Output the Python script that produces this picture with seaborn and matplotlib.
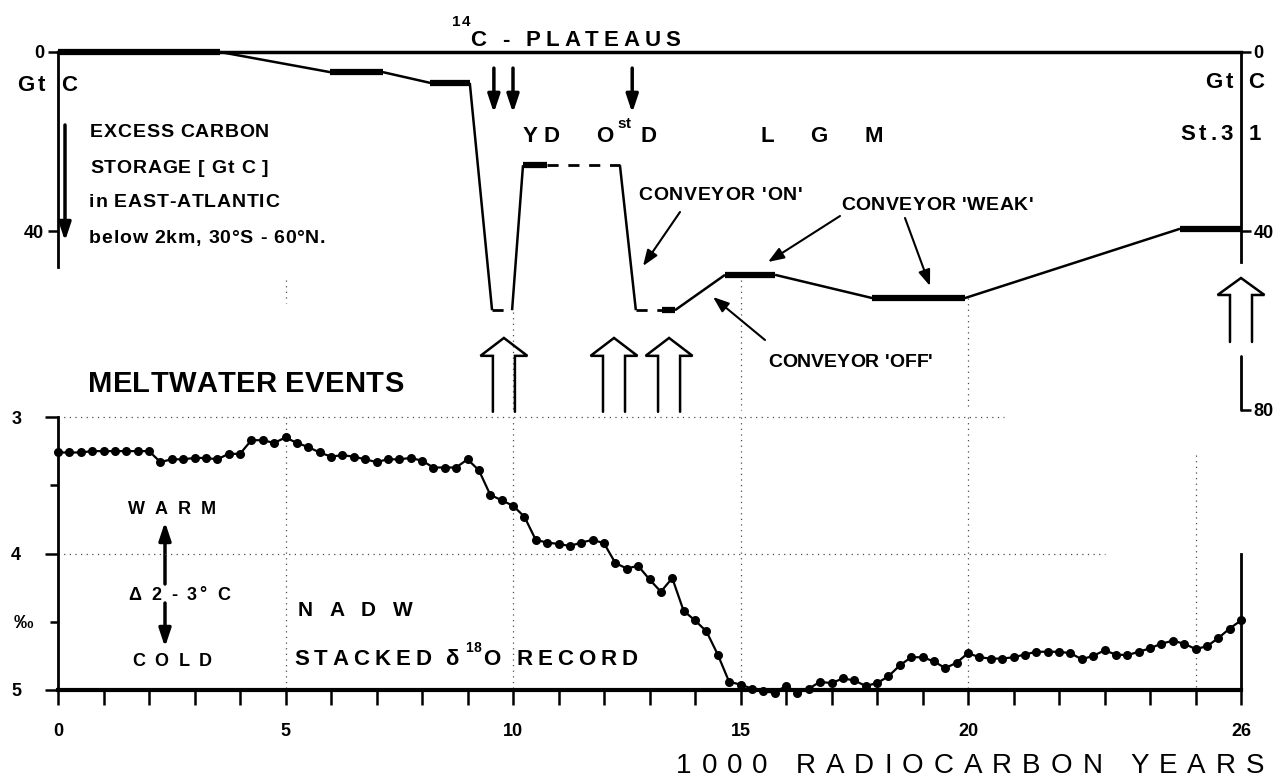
import numpy as np
import pandas as pd
import matplotlib
matplotlib.use("Agg")
import matplotlib.pyplot as plt
import seaborn as sns
from matplotlib.font_manager import FontProperties, findfont, get_font

# ----------------------------------
# Data
# ----------------------------------

# stacked d18O record of NADW, one sample every 250 radiocarbon years
age_kyr = np.arange(0, 26.001, 0.25)
d18o_permil = [
    3.26, 3.26, 3.26, 3.25, 3.25, 3.25, 3.25, 3.25, 3.25,
    3.33, 3.31, 3.31, 3.30, 3.30, 3.31, 3.27, 3.27,
    3.17, 3.17, 3.19, 3.15,
    3.19, 3.22, 3.26, 3.29, 3.28, 3.29, 3.31, 3.33, 3.31, 3.31, 3.30,
    3.32, 3.37, 3.37, 3.37, 3.31, 3.39, 3.57, 3.61, 3.65, 3.73,
    3.90, 3.92, 3.93, 3.945, 3.92, 3.90, 3.925, 4.07, 4.11, 4.09, 4.19,
    4.28, 4.18, 4.42, 4.49, 4.57, 4.74, 4.94, 4.96, 4.99, 5.01,
    5.02, 4.97, 5.02, 4.99, 4.94, 4.95, 4.915, 4.93, 4.97, 4.95, 4.90,
    4.82, 4.76, 4.76, 4.79, 4.84, 4.80, 4.73, 4.76, 4.77, 4.77,
    4.76, 4.74, 4.72, 4.72, 4.72, 4.73, 4.775, 4.75, 4.71, 4.74, 4.745,
    4.72, 4.695, 4.66, 4.64, 4.66, 4.70, 4.68, 4.62, 4.55, 4.49,
]

# excess carbon storage scheme (break points)
carbon_age = [0, 3.56, 5.98, 7.14, 8.18, 9.05, 9.54, 9.98, 10.22, 10.75,
              12.35, 12.70, 13.27, 13.56, 14.66, 15.76, 17.90, 19.93,
              24.66, 26.0]
carbon_gtc = [0, 0, 4.5, 4.5, 6.9, 6.9, 57.7, 57.7, 25.3, 25.3,
              25.3, 57.7, 57.7, 57.7, 49.8, 49.8, 55.0, 55.0,
              39.5, 39.5]

# 14C plateaus and meltwater events (kyr)
plateau_ages = [9.58, 10.0, 12.62]
meltwater_ages = [9.8, 12.22, 13.43, 26.0]

xtick_labels = {0: "0", 5: "5", 10: "10", 15: "15", 20: "20", 26: "26"}

# ----------------------------------
# Style
# ----------------------------------

W, H, DPI = 1283, 781, 100
FONT = "Liberation Sans"

sns.set_theme(style="white")
plt.rcParams["font.family"] = [FONT, "DejaVu Sans"]
plt.rcParams["font.weight"] = "bold"
plt.rcParams["axes.edgecolor"] = "black"
plt.rcParams["xtick.color"] = "black"
plt.rcParams["ytick.color"] = "black"
plt.rcParams["text.color"] = "black"

fig = plt.figure(figsize=(W / DPI, H / DPI), dpi=DPI)


def fx(px):
    return px / W


def fy(py):
    return 1 - py / H


def pt2px(v):
    return v * DPI / 72


def tracked(px, cy, s, size, track=0.0, weight="bold"):
    # letter-spaced text, px = left edge, cy = middle of capitals (pixels)
    prop = FontProperties(family=FONT, weight=weight, size=size)
    font = get_font(findfont(prop))
    base = cy + 0.36 * pt2px(size)
    x = px
    for ch in s:
        fig.text(fx(x), fy(base), ch, fontproperties=prop,
                 ha="left", va="baseline")
        font.set_size(size, 72)
        adv = font.load_char(ord(ch)).linearHoriAdvance / 65536
        x += pt2px(adv) + track


LEFT, RIGHT = 58, 1241
ax_top = fig.add_axes([fx(LEFT), fy(410), fx(RIGHT) - fx(LEFT), fy(52) - fy(410)])
ax_bot = fig.add_axes([fx(LEFT), fy(690), fx(RIGHT) - fx(LEFT), fy(417) - fy(690)])

for ax in (ax_top, ax_bot):
    ax.set_facecolor("none")

# ----------------------------------
# Lower panel: d18O record
# ----------------------------------

df = pd.DataFrame({"age": age_kyr, "d18o": d18o_permil})

sns.lineplot(
    data=df,
    x="age",
    y="d18o",
    ax=ax_bot,
    color="black",
    linewidth=1.6,
    marker="o",
    markersize=6.5,
    markeredgewidth=0,
    estimator=None,
    sort=False,
    clip_on=False,
    zorder=5
)

ax_bot.set_xlim(0, 26)
ax_bot.set_ylim(5, 3)
ax_bot.set_xlabel("")
ax_bot.set_ylabel("")

dots = dict(color="0.3", lw=0.9, ls=(0, (1, 3.5)), zorder=1, clip_on=False)
for x in [5, 10, 15, 20]:
    ax_bot.plot([x, x], [3, 5], **dots)
ax_bot.plot([25, 25], [3.28, 5], **dots)
ax_bot.plot([0, 20.8], [3, 3], **dots)
ax_bot.plot([0, 23], [4, 4], **dots)

ax_bot.spines["top"].set_visible(False)
ax_bot.spines["right"].set_bounds(4, 5)
ax_bot.spines["left"].set_linewidth(2)
ax_bot.spines["right"].set_linewidth(2)
ax_bot.spines["bottom"].set_linewidth(3)

ax_bot.set_xticks(range(27))
ax_bot.set_xticklabels([xtick_labels.get(t, "") for t in range(27)])
ax_bot.tick_params(axis="x", bottom=True, direction="out", length=11,
                   width=1.8, pad=13, labelsize=13)

ax_bot.set_yticks([3, 4, 5], ["3", "4", "5"])
ax_bot.set_yticks([3.5, 4.5], ["", "‰"], minor=True)
ax_bot.tick_params(axis="y", which="major", left=True, direction="out",
                   length=9.5, width=1.8, pad=17, labelsize=13)
ax_bot.tick_params(axis="y", which="minor", left=True, direction="out",
                   length=6, width=1.8, pad=12, labelsize=14)

# ----------------------------------
# Upper panel: excess carbon storage
# ----------------------------------

ax_top.set_xlim(0, 26)
ax_top.set_ylim(80, 0)

carbon_look = ["thick", "thin", "thick", "thin", "thick", "thin", "dash",
               "thin", "thick", "dash", "thin", "dash", "thick", "thin",
               "thick", "thin", "thick", "thin", "thick"]
looks = {
    "thick": dict(lw=4.5, ls="-"),
    "thin": dict(lw=1.8, ls="-"),
    "dash": dict(lw=2.0, ls=(0, (4, 3.5))),
}
for i, look in enumerate(carbon_look):
    ax_top.plot(carbon_age[i:i + 2], carbon_gtc[i:i + 2], color="black",
                solid_capstyle="butt", clip_on=False, **looks[look])

top_grid = [(5, 51, 56), (10, 58, 80), (15, 51, 80), (20, 55, 80)]
for x, y0, y1 in top_grid:
    ax_top.plot([x, x], [y0, y1], **dots)

ax_top.spines["bottom"].set_visible(False)
ax_top.spines["right"].set_visible(False)
ax_top.spines["top"].set_linewidth(2.5)
ax_top.spines["left"].set_linewidth(2)
ax_top.spines["left"].set_bounds(0, 48)
ax_top.set_xticks([])
ax_top.set_yticks([0, 40], ["0", "40"])
ax_top.tick_params(axis="y", left=True, direction="out", length=7,
                   width=1.8, pad=3, labelsize=13)

ax_r = ax_top.twinx()
ax_r.set_facecolor("none")
ax_r.set_ylim(80, 0)
for s in ["left", "top", "bottom"]:
    ax_r.spines[s].set_visible(False)
ax_r.spines["right"].set_bounds(0, 47)
ax_r.spines["right"].set_linewidth(2)
ax_r.set_yticks([0, 40, 80], ["0", "40", "80"])
ax_r.tick_params(axis="y", right=True, direction="out", length=7,
                 width=1.8, pad=2, labelsize=13)
ax_r.plot([26, 26], [68, 80], color="black", lw=2, clip_on=False)

# 14C plateau arrows
for age in plateau_ages:
    ax_top.annotate(
        "",
        xy=(age, 13.6),
        xytext=(age, 3.6),
        arrowprops=dict(arrowstyle="-|>,head_length=0.9,head_width=0.3",
                        color="black", lw=2.5, shrinkA=0, shrinkB=0),
        annotation_clip=False
    )

# meltwater events: open block arrows
for age in meltwater_ages:
    if age < 26:
        tip, base, foot = 63.9, 67.9, 80.4
    else:
        tip, base, foot = 50.5, 54.3, 64.8
    xs = [age - 0.242, age - 0.242, age - 0.516, age,
          age + 0.516, age + 0.242, age + 0.242]
    ys = [foot, base, base, tip, base, base, foot]
    ax_top.plot(xs, ys, color="black", lw=1.8, clip_on=False,
                solid_joinstyle="miter")

# ----------------------------------
# Annotation arrows (figure pixels)
# ----------------------------------


def arrow(x0, y0, x1, y1, lw=1.5, hl=0.8, hw=0.3):
    ax_top.annotate(
        "",
        xy=(fx(x1), fy(y1)),
        xytext=(fx(x0), fy(y0)),
        xycoords="figure fraction",
        textcoords="figure fraction",
        arrowprops=dict(arrowstyle=f"-|>,head_length={hl},head_width={hw}",
                        color="black", lw=lw, shrinkA=0, shrinkB=0),
        annotation_clip=False
    )


arrow(65, 125, 65, 241, lw=2.5, hl=0.9, hw=0.3)
arrow(680, 212, 643, 266)
arrow(840, 216, 768, 262)
arrow(905, 218, 930, 286)
arrow(765, 340, 713, 297)
arrow(165, 584, 165, 522, lw=2.5, hl=0.9, hw=0.3)
arrow(165, 603, 165, 647, lw=2.5, hl=0.9, hw=0.3)

# ----------------------------------
# Labels
# ----------------------------------

tracked(452, 21, "14", 11, 1)
tracked(470, 38, "C - PLATEAUS", 16, 5)

tracked(17, 83, "Gt", 16, 3)
tracked(61, 83, "C", 16)
tracked(1205, 80, "Gt", 16, 3)
tracked(1248, 80, "C", 16)
tracked(1180, 132, "St.3", 16, 4)
tracked(1249, 132, "1", 16)

tracked(90, 130, "EXCESS CARBON", 14, 0.8)
tracked(90, 166, "STORAGE [ Gt C ]", 14, 0.8)
tracked(89, 200, "in EAST-ATLANTIC", 14, 0.8)
tracked(89, 236, "below 2km, 30°S - 60°N.", 14, 0.8)

tracked(523, 134, "YD", 16, 5.5)
tracked(596, 134, "O", 16)
tracked(617, 123, "st", 11)
tracked(640, 134, "D", 16)
tracked(760, 134, "L", 16)
tracked(810, 134, "G", 16)
tracked(864, 134, "M", 16)

tracked(638, 193, "CONVEYOR 'ON'", 14, 0.8)
tracked(841, 203, "CONVEYOR 'WEAK'", 14, 0.5)
tracked(768, 360, "CONVEYOR 'OFF'", 14, 0)

tracked(88, 382, "MELTWATER EVENTS", 21, 0.3)

tracked(128, 508, "WARM", 13, 10)
tracked(128, 593, "Δ 2 - 3° C", 13, 2.5)
tracked(132, 660, "COLD", 13, 9.6)
tracked(298, 608, "NADW", 15, 16.5)
tracked(294, 657, "STACKED", 16, 5)
tracked(445, 657, "δ", 16)
tracked(465, 647, "18", 10, 0.5)
tracked(483, 657, "O RECORD", 16, 5)

tracked(676, 763, "1000 RADIOCARBON YEARS", 20, 10, weight="normal")

fig.savefig("out.png", dpi=DPI)
